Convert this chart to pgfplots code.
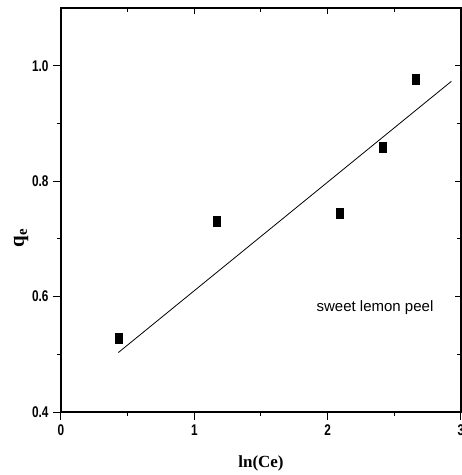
\documentclass[border=0pt]{standalone}
\usepackage{fontspec}
\usepackage{pgfplots}
\pgfplotsset{compat=1.18}
\setmainfont{Liberation Serif}
\newfontfamily\tickfont[FakeStretch=0.76]{Liberation Sans}
\newfontfamily\annfont{Liberation Sans}
\begin{document}
\begin{tikzpicture}
\useasboundingbox (-61pt,-63pt) rectangle (401pt,412pt);
\begin{axis}[
  at={(0,0)}, anchor=south west,
  scale only axis, width=400pt, height=404pt,
  xmin=0, xmax=3, ymin=0.4, ymax=1.1,
  xtick={0,1,2,3}, ytick={0.4,0.6,0.8,1.0},
  minor xtick={0.5,1.5,2.5}, minor ytick={0.5,0.7,0.9},
  xtick pos=left, ytick pos=left,
  tick align=outside,
  major tick length=8pt, minor tick length=4pt,
  axis line style={line width=1.2pt},
  every tick/.style={black, line width=1pt},
  xticklabel style={font=\tickfont\bfseries\fontsize{15.5}{15.5}\selectfont, yshift=-1pt},
  yticklabel style={font=\tickfont\bfseries\fontsize{15.5}{15.5}\selectfont, xshift=-1pt},
  xticklabels={0,1,2,3},
  yticklabels={0.4,0.6,0.8,1.0},
  xlabel={\textbf{ln(Ce)}},
  xlabel style={font=\fontsize{17}{17}\selectfont, at={(rel axis cs:0.5,0)}, anchor=center, yshift=-51pt},
  ylabel={\textbf{q\textsubscript{e}}},
  ylabel style={font=\fontsize{21}{21}\selectfont, at={(rel axis cs:0,0.43)}, anchor=center, rotate=0, yshift=40pt},
]
\addplot[only marks, mark=square*, mark size=5pt, mark options={xscale=0.72, black}] coordinates {
  (0.433,0.528) (1.165,0.731) (2.088,0.744) (2.413,0.859) (2.663,0.977)
};
\addplot[black, line width=0.8pt, no marks] coordinates {(0.43,0.503) (2.928,0.973)};
\node[font=\annfont\fontsize{15}{15}\selectfont] at (axis cs:2.355,0.58) {sweet lemon peel};
\end{axis}
\begin{axis}[
  at={(0,0)}, anchor=south west,
  scale only axis, width=400pt, height=404pt,
  xmin=0, xmax=3, ymin=0.4, ymax=1.1,
  xtick={0,1,2,3}, ytick={0.4,0.6,0.8,1.0},
  minor xtick={0.5,1.5,2.5}, minor ytick={0.5,0.7,0.9},
  xtick pos=right, ytick pos=right,
  tick align=inside,
  major tick length=6pt, minor tick length=4pt,
  axis line style={line width=1.2pt},
  every tick/.style={black, line width=1pt},
  xticklabels={}, yticklabels={},
]
\end{axis}
\end{tikzpicture}
\end{document}
